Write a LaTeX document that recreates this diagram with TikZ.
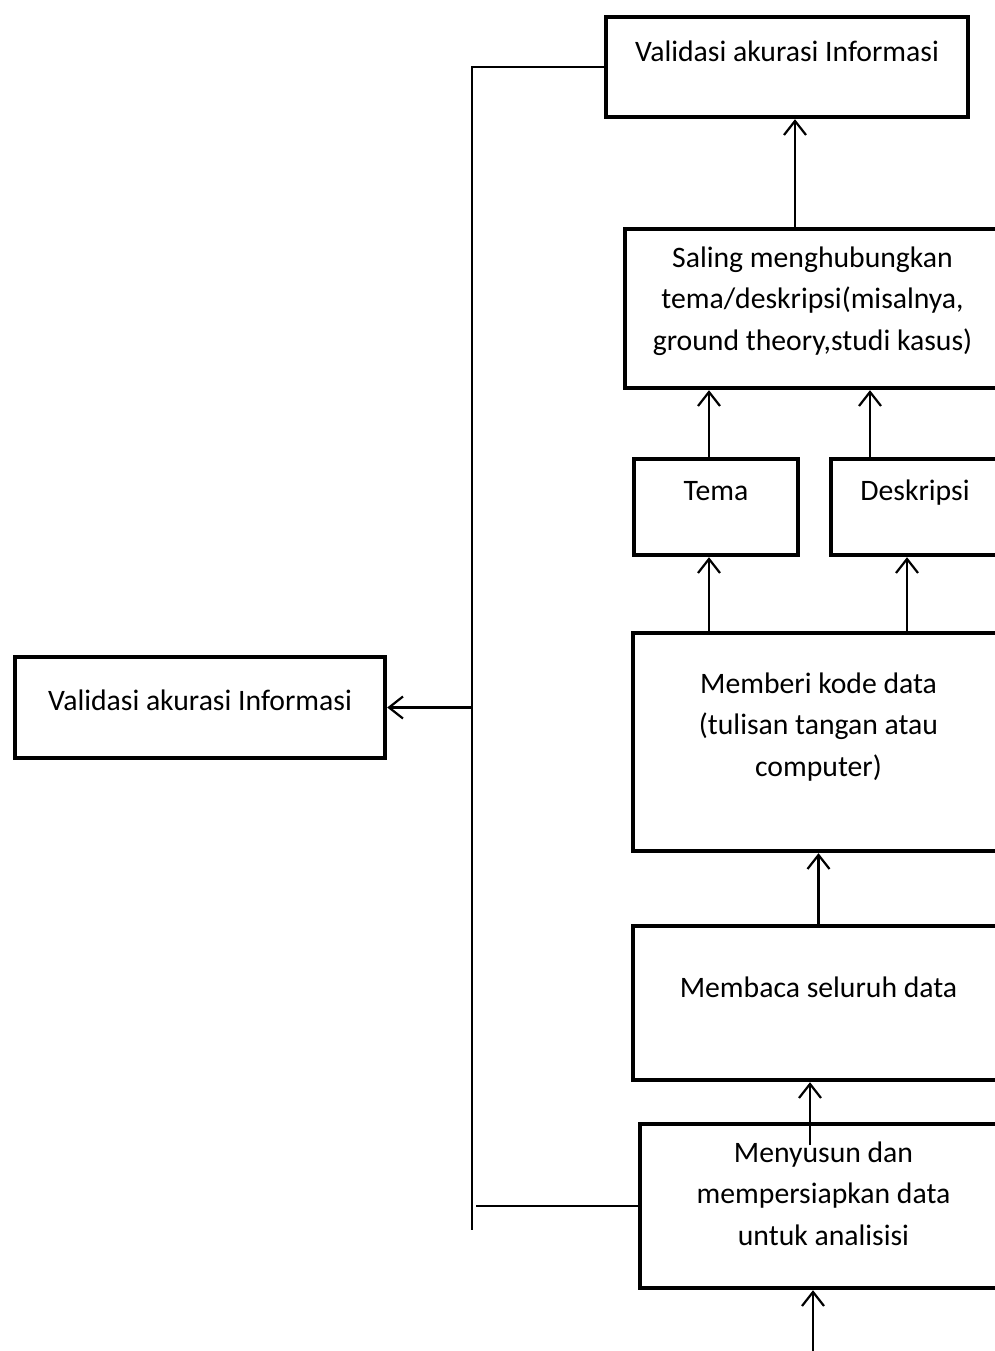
\documentclass[tikz,border=0pt]{standalone}
\usepackage{fontspec}
\setmainfont{Carlito}
\usepackage{tikz}
\usetikzlibrary{arrows.meta,positioning,calc}
\tikzstyle{box} = [draw=black, line width=4.5pt, inner sep=0pt, outer sep=0pt, anchor=north west, font=\fontsize{29.7}{41.5}\selectfont]
\tikzstyle{arrow} = [line width=2.2pt, -{Straight Barb[length=14pt,width=22pt]}, shorten >=2.2pt]
\tikzstyle{link} = [line width=2.2pt]
\newcommand{\boxlines}[1]{\begin{tabular}[t]{@{}c@{}}#1\end{tabular}}

\begin{document}
\begin{tikzpicture}[x=1pt,y=-1pt]
	\useasboundingbox (0,0) rectangle (995,1351);
	\clip (0,0) rectangle (995,1351);
	% boxes of the main column
	\node[box, minimum width=362pt, text height=45pt, text depth=55pt] (val-top) at (606,17) {\boxlines{Validasi akurasi Informasi}};
	\node[box, minimum width=375pt, text height=38pt, text depth=121pt] (saling) at (625,229) {\boxlines{Saling menghubungkan\\tema/deskripsi(misalnya,\\ground theory,studi kasus)}};
	\node[box, minimum width=164pt, text height=41pt, text depth=55pt] (tema) at (634,459) {\boxlines{Tema}};
	\node[box, minimum width=168pt, text height=41pt, text depth=55pt] (deskripsi) at (831,459) {\boxlines{Deskripsi}};
	\node[box, minimum width=371pt, text height=60pt, text depth=158pt] (memberi) at (633,633) {\boxlines{Memberi kode data\\(tulisan tangan atau\\computer)}};
	\node[box, minimum width=371pt, text height=71pt, text depth=83pt] (membaca) at (633,926) {\boxlines{Membaca seluruh data}};
	\node[box, minimum width=367pt, text height=38pt, text depth=126pt] (menyusun) at (640,1124) {\boxlines{Menyusun dan\\mempersiapkan data\\untuk analisisi}};
	\node[box, minimum width=370pt, text height=53pt, text depth=48pt] (val-left) at (15,657) {\boxlines{Validasi akurasi Informasi}};
	% helper coordinates
	\coordinate (fb-end) at (472,1230);
	\coordinate (entry) at (813,1360);
	% upward arrows
	\draw[arrow] (entry) -- (entry |- menyusun.south);
	\draw[arrow] ([xshift=-13.5pt,yshift=-21pt]menyusun.north) -- ([xshift=-13.5pt]menyusun.north |- membaca.south);
	\draw[arrow] (membaca.north) -- (memberi.south);
	\draw[arrow] ([xshift=-7pt]tema.south |- memberi.north) -- ([xshift=-7pt]tema.south);
	\draw[arrow] ([xshift=-8pt]deskripsi.south |- memberi.north) -- ([xshift=-8pt]deskripsi.south);
	\draw[arrow] ([xshift=-7pt]tema.north) -- ([xshift=-7pt]tema.north |- saling.south);
	\draw[arrow] ([xshift=-45pt]deskripsi.north) -- ([xshift=-45pt]deskripsi.north |- saling.south);
	\draw[arrow] ([xshift=-17.5pt]saling.north) -- ([xshift=-17.5pt]saling.north |- val-top.south);
	% feedback line
	\draw[link] (val-top.west) -| (fb-end);
	\draw[arrow] (val-left.east -| fb-end) -- (val-left.east);
	\draw[link] (menyusun.west) -- ([xshift=4pt]menyusun.west -| fb-end);
\end{tikzpicture}
\end{document}
